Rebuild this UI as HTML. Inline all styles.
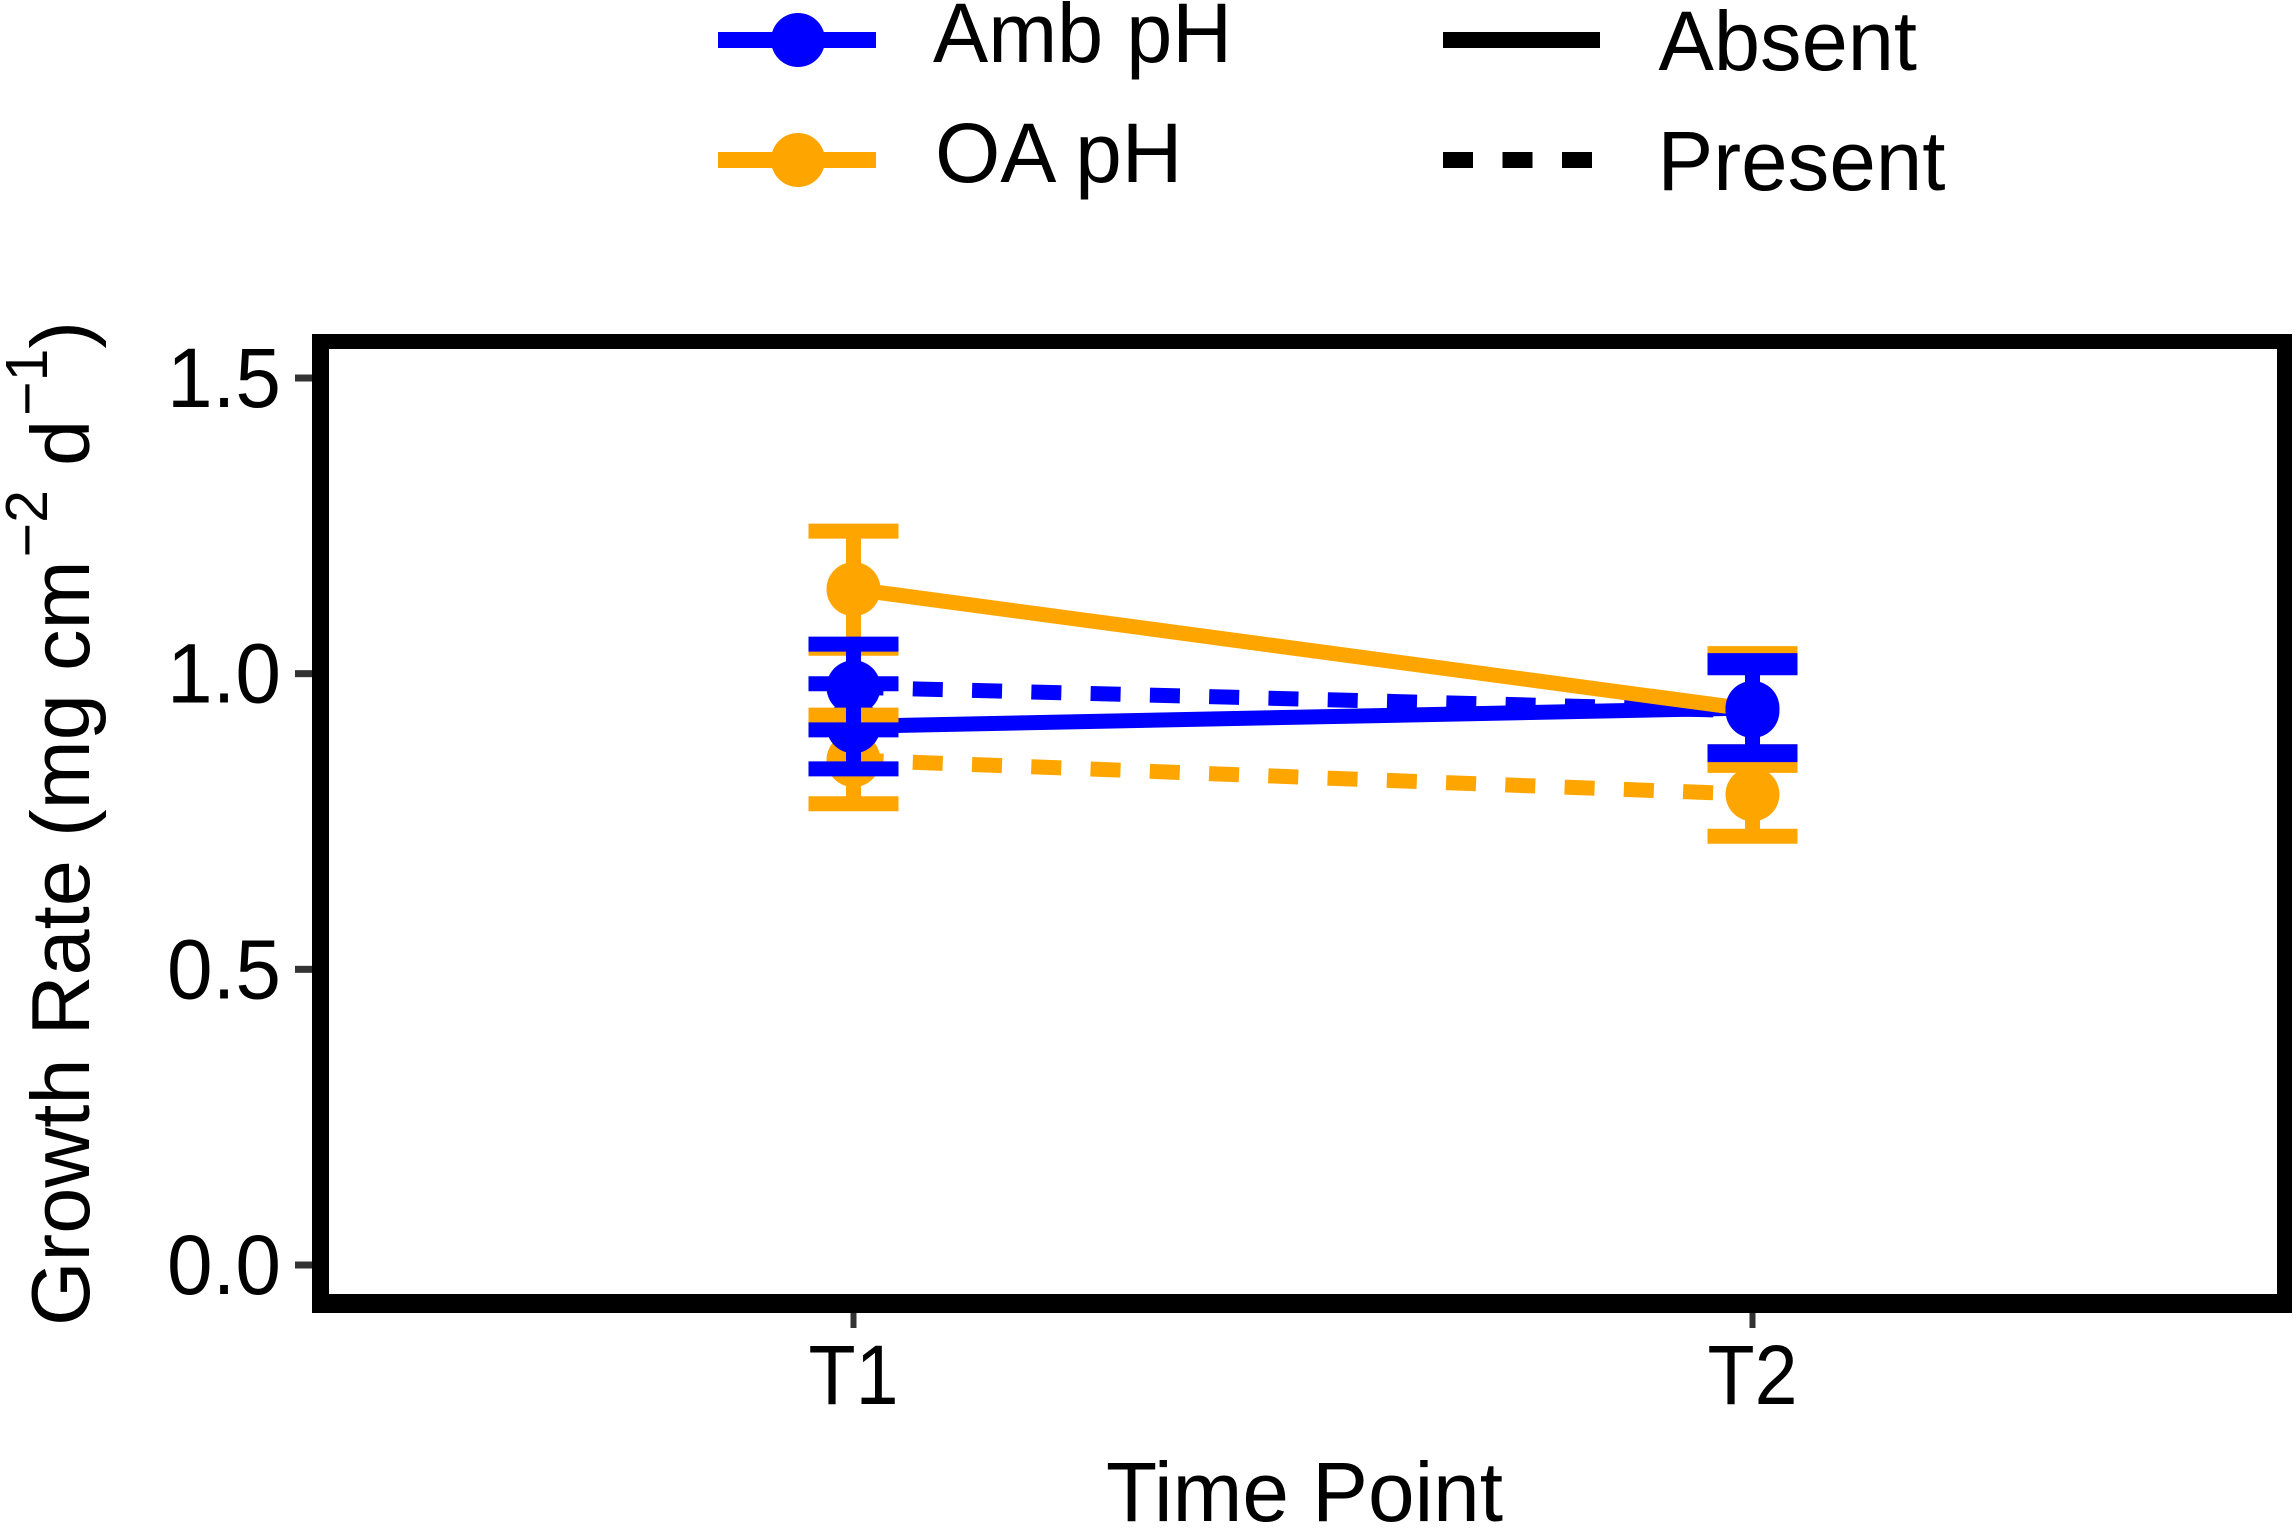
<!DOCTYPE html>
<html lang="en">
<head>
<meta charset="utf-8">
<title>Growth Rate by Time Point</title>
<style>
html,body{margin:0;padding:0;background:#fff;}
svg{display:block;}
text{font-family:"Liberation Sans",sans-serif;fill:#000;}
</style>
</head>
<body>
<svg id="chart" xmlns="http://www.w3.org/2000/svg" width="2296" height="1528" viewBox="0 0 2296 1528">
  <rect x="0" y="0" width="2296" height="1528" fill="#fff"/>

  <g>
    <g>
      <rect x="718" y="32" width="158" height="16" fill="#0000ff"/>
      <circle cx="798" cy="40" r="27" fill="#0000ff"/>
      <text x="933" y="62" font-size="84" textLength="299" lengthAdjust="spacingAndGlyphs">Amb pH</text>
    </g>
    <g>
      <rect x="718" y="152" width="158" height="16" fill="#ffa500"/>
      <circle cx="798" cy="160" r="27" fill="#ffa500"/>
      <text x="935" y="182" font-size="84">OA pH</text>
    </g>
    <g>
      <line x1="1443" y1="40" x2="1600" y2="40" stroke="#000" stroke-width="16"/>
      <text x="1658.5" y="70" font-size="84" textLength="258.5" lengthAdjust="spacingAndGlyphs">Absent</text>
    </g>
    <g>
      <line x1="1443" y1="160" x2="1600" y2="160" stroke="#000" stroke-width="16" stroke-dasharray="30 29.5"/>
      <text x="1657.5" y="190" font-size="84" textLength="288" lengthAdjust="spacingAndGlyphs">Present</text>
    </g>
  </g>

  <g id="ticks"></g>
  <g id="lines"></g>
  <g id="points"></g>
  <g id="errors"></g>

  <g fill="#000">
    <rect x="312" y="334" width="1980" height="15"/>
    <rect x="312" y="334" width="17" height="979"/>
    <rect x="2277" y="334" width="15" height="979"/>
    <rect x="312" y="1294" width="1980" height="19"/>
  </g>

  <text x="1304.5" y="1521" font-size="84" text-anchor="middle" textLength="397" lengthAdjust="spacingAndGlyphs">Time Point</text>
  <text transform="translate(89,1326) rotate(-90)" font-size="83">Growth Rate (mg cm<tspan font-size="59" dx="3" dy="-42">−2</tspan><tspan dx="1" dy="42"> d</tspan><tspan font-size="59" dx="4" dy="-42">−1</tspan><tspan dx="0" dy="42">)</tspan></text>
</svg>

<script>
var categories = ['T1', 'T2'];
var yTickValues = [0, 0.5, 1, 1.5];
var yTickLabels = ['0.0', '0.5', '1.0', '1.5'];

var ambAbsentMean = [0.911, 0.942];
var ambAbsentUpper = [0.983, 1.022];
var ambAbsentLower = [0.839, 0.868];

var ambPresentMean = [0.977, 0.937];
var ambPresentUpper = [1.050, 1.010];
var ambPresentLower = [0.905, 0.863];

var oaAbsentMean = [1.143, 0.939];
var oaAbsentUpper = [1.241, 1.034];
var oaAbsentLower = [1.043, 0.845];

var oaPresentMean = [0.854, 0.796];
var oaPresentUpper = [0.930, 0.868];
var oaPresentLower = [0.780, 0.725];

var NS = 'http://www.w3.org/2000/svg';
var BLUE = '#0000ff';
var ORANGE = '#ffa500';

function xScale(i) { return 853.5 + i * 899; }
function yScale(v) { return 1265 - v * 591.33; }

function make(tag, parent, props) {
  var el = document.createElementNS(NS, tag);
  for (var k in props) { el.setAttribute(k, props[k]); }
  parent.appendChild(el);
  return el;
}

var tickLayer = document.getElementById('ticks');
var lineLayer = document.getElementById('lines');
var pointLayer = document.getElementById('points');
var errorLayer = document.getElementById('errors');

yTickValues.forEach(function (v, i) {
  var t = make('rect', tickLayer, { x: 295, y: yScale(v) - 3.5, width: 19, height: 7, fill: '#333333' });
  
  
  var l = make('text', tickLayer, { x: 281, y: yScale(v) + 29, 'font-size': 84, 'text-anchor': 'end', textLength: 114, lengthAdjust: 'spacingAndGlyphs' });
  
  
  l.textContent = yTickLabels[i];
});

categories.forEach(function (c, i) {
  var t = make('rect', tickLayer, { x: xScale(i) - 3, y: 1309, width: 6, height: 19, fill: '#333333' });
  
  
  var l = make('text', tickLayer, { x: xScale(i), y: 1404, 'font-size': 84, 'text-anchor': 'middle', textLength: 90, lengthAdjust: 'spacingAndGlyphs' });
  
  
  l.textContent = c;
});

function drawLine(mean, color, dashed) {
  var props = {
    x1: xScale(0), y1: yScale(mean[0]),
    x2: xScale(1), y2: yScale(mean[1]),
    stroke: color, 'stroke-width': 15, fill: 'none'
  };
  if (dashed) { props['stroke-dasharray'] = '30 29.3'; }
  var el = make('line', lineLayer, props);
  
  
}

function drawPoints(mean, color) {
  mean.forEach(function (v, i) {
    var el = make('circle', pointLayer, { cx: xScale(i), cy: yScale(v), r: 27, fill: color });
    
    
  });
}

function drawErrors(upper, lower, color) {
  upper.forEach(function (u, i) {
    var cx = xScale(i);
    var yU = yScale(u);
    var yL = yScale(lower[i]);
    var stem = make('line', errorLayer, { x1: cx, y1: yU, x2: cx, y2: yL, stroke: color, 'stroke-width': 15 });
    
    
    var capTop = make('line', errorLayer, { x1: cx - 45, y1: yU, x2: cx + 45, y2: yU, stroke: color, 'stroke-width': 15 });
    
    
    var capBottom = make('line', errorLayer, { x1: cx - 45, y1: yL, x2: cx + 45, y2: yL, stroke: color, 'stroke-width': 15 });
    
    
  });
}

drawLine(ambPresentMean, BLUE, true);
drawLine(ambAbsentMean, BLUE, false);
drawLine(oaPresentMean, ORANGE, true);
drawLine(oaAbsentMean, ORANGE, false);

drawPoints(oaPresentMean, ORANGE);
drawPoints(oaAbsentMean, ORANGE);
drawPoints(ambPresentMean, BLUE);
drawPoints(ambAbsentMean, BLUE);

drawErrors(oaPresentUpper, oaPresentLower, ORANGE);
drawErrors(oaAbsentUpper, oaAbsentLower, ORANGE);
drawErrors(ambPresentUpper, ambPresentLower, BLUE);
drawErrors(ambAbsentUpper, ambAbsentLower, BLUE);
</script>
</body>
</html>
